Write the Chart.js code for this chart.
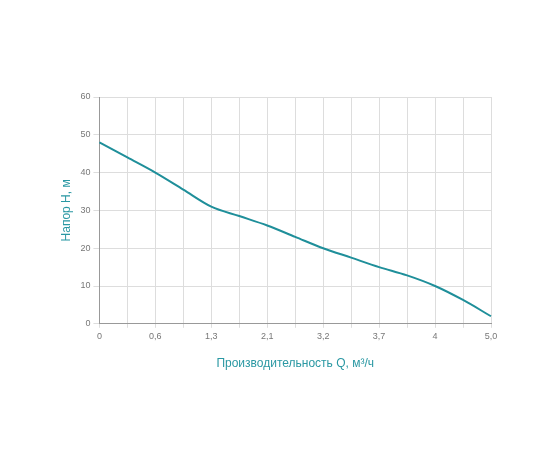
<!DOCTYPE html><html><head><script src="https://cdn.jsdelivr.net/npm/chart.js"></script>
<style>body{margin:0;background:#fff}#w{width:560px;height:460px}</style></head><body><div id="w"><canvas id="c"></canvas></div>
<script>
const categories=['0','','0,6','','1,3','','2,1','','3,2','','3,7','','4','','5,0'];
const head=[48,44,40,35.5,31,28.5,26,23,20,17.5,15,12.8,10,6.3,2];
const yTicks=[0,10,20,30,40,50,60];
new Chart(document.getElementById('c'),{type:'line',
data:{labels:categories,datasets:[{data:head,borderColor:'#1f8f9a',borderWidth:2,pointRadius:0,tension:0.4,cubicInterpolationMode:'monotone'}]},
options:{responsive:true,maintainAspectRatio:false,animation:false,
layout:{padding:{left:55,right:69,top:97,bottom:85}},
plugins:{legend:{display:false},tooltip:{enabled:false}},
scales:{x:{offset:false,grid:{color:'#dddddd',tickLength:4},border:{color:'#999'},
ticks:{autoSkip:false,maxRotation:0,color:'#777',font:{family:'Liberation Sans',size:9}},
title:{display:true,text:'Производительность Q, м³/ч',color:'#2a98a3',font:{family:'Liberation Sans',size:12},padding:{top:12}}},
y:{min:0,max:60,afterBuildTicks:a=>{a.ticks=yTicks.map(v=>({value:v}))},grid:{color:'#dddddd',tickLength:6},border:{color:'#999'},
ticks:{color:'#777',font:{family:'Liberation Sans',size:9}},
title:{display:true,text:'Напор H, м',color:'#2a98a3',font:{family:'Liberation Sans',size:12}}}}}});
</script></body></html>
